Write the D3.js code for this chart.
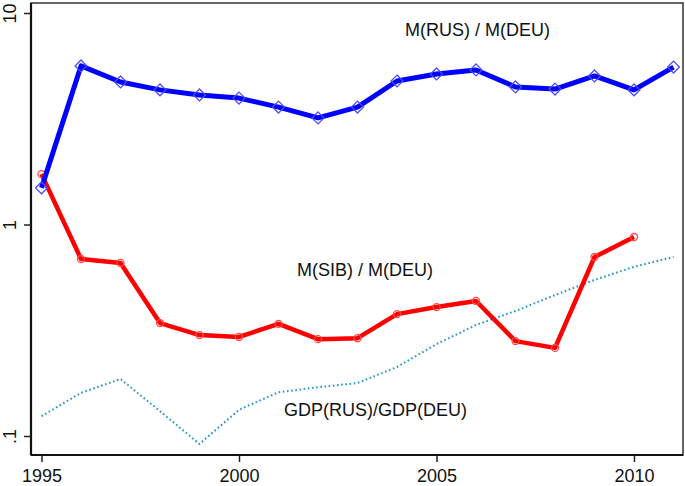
<!DOCTYPE html>
<html>
<head>
<meta charset="utf-8">
<script src="https://cdn.jsdelivr.net/npm/d3@7"></script>
<style>
html,body{margin:0;padding:0;background:#fff;}
svg{display:block;}
text{font-family:"Liberation Sans",Arial,sans-serif;}
</style>
</head>
<body>
<svg id="chart" width="685" height="486"></svg>
<script>
const years = [1995,1996,1997,1998,1999,2000,2001,2002,2003,2004,2005,2006,2007,2008,2009,2010,2011];
const rusDeu = [1.49,5.62,4.72,4.33,4.10,3.96,3.59,3.19,3.59,4.77,5.15,5.38,4.47,4.37,5.04,4.33,5.55];
const sibYears = [1995,1996,1997,1998,1999,2000,2001,2002,2003,2004,2005,2006,2007,2008,2009,2010];
const sibDeu = [1.73,0.687,0.658,0.342,0.300,0.294,0.339,0.287,0.290,0.377,0.407,0.435,0.281,0.261,0.702,0.873];
const gdpRatio = [0.124,0.160,0.186,0.131,0.0917,0.133,0.161,0.170,0.178,0.212,0.272,0.335,0.390,0.464,0.547,0.631,0.702];
const xTicks = [1995,2000,2005,2010];
const yTicks = [0.1,1,10];
const yTickLabels = [".1","1","10"];
const seriesLabels = ["M(RUS) / M(DEU)","M(SIB) / M(DEU)","GDP(RUS)/GDP(DEU)"];

const svg = d3.select("#chart");
const L = 31, R = 683, T = 3, B = 455;

const x = d3.scaleLinear().domain([1995, 2010]).range([41.5, 634]);
const y = d3.scaleLog().domain([0.1, 10]).range([436, 13]);

// frame
svg.append("rect").attr("x", L).attr("y", T).attr("width", R - L).attr("height", B - T)
  .attr("fill", "none").attr("stroke", "#333").attr("stroke-width", 1.5);

// x axis
const xAxis = d3.axisBottom(x).tickValues(xTicks).tickFormat(d3.format("d")).tickSize(7).tickPadding(7);
const gx = svg.append("g").attr("transform", `translate(0,${B})`).call(xAxis);
gx.select(".domain").attr("d", `M${L},0H${R}`).attr("stroke", "#111").attr("stroke-width", 2.2);
gx.selectAll(".tick line").attr("stroke", "#222").attr("stroke-width", 1.5);
gx.selectAll(".tick text").attr("font-size", 18).attr("fill", "#111")
  .attr("font-family", "Liberation Sans, Arial, sans-serif");

// y axis
const yAxis = d3.axisLeft(y).tickValues(yTicks).tickFormat((d, i) => yTickLabels[i]).tickSize(7);
const gy = svg.append("g").attr("transform", `translate(${L},0)`).call(yAxis);
gy.select(".domain").attr("d", `M0,${T}V${B}`).attr("stroke", "#111").attr("stroke-width", 2.2);
gy.selectAll(".tick line").attr("stroke", "#222").attr("stroke-width", 1.5);
gy.selectAll(".tick text")
  .attr("x", null).attr("dy", null)
  .attr("font-size", 18).attr("fill", "#111")
  .attr("font-family", "Liberation Sans, Arial, sans-serif")
  .attr("text-anchor", "middle")
  .attr("transform", "translate(-15.5,0) rotate(-90)");

// GDP dotted line
const gdpLine = d3.line().x((d, i) => x(years[i])).y(d => y(d));
svg.append("path").datum(gdpRatio).attr("d", gdpLine)
  .attr("fill", "none").attr("stroke", "#2394cf").attr("stroke-width", 2)
  .attr("stroke-dasharray", "1.6,2.6").attr("stroke-linecap", "butt");

// Red line
const sibLine = d3.line().x((d, i) => x(sibYears[i])).y(d => y(d));
svg.append("path").datum(sibDeu).attr("d", sibLine)
  .attr("fill", "none").attr("stroke", "#ff0000").attr("stroke-width", 4.5)
  .attr("stroke-linejoin", "round");
svg.append("g").selectAll("circle").data(sibDeu).join("circle")
  .attr("cx", (d, i) => x(sibYears[i])).attr("cy", d => y(d)).attr("r", 3.5)
  .attr("fill", "none").attr("stroke", "#ff4a4a").attr("stroke-width", 1.3);

// Blue line
const rusLine = d3.line().x((d, i) => x(years[i])).y(d => y(d));
svg.append("path").datum(rusDeu).attr("d", rusLine)
  .attr("fill", "none").attr("stroke", "#0000ff").attr("stroke-width", 5)
  .attr("stroke-linejoin", "round");
const diamond = d3.symbol().type(d3.symbolDiamond2).size(90);
svg.append("g").selectAll("path").data(rusDeu).join("path")
  .attr("d", diamond)
  .attr("transform", (d, i) => `translate(${x(years[i])},${y(d)})`)
  .attr("fill", "none").attr("stroke", "#4b4bff").attr("stroke-width", 1.3);

// series labels
const lab = [[405, 36], [297, 276], [284, 416]];
svg.append("g").selectAll("text").data(seriesLabels).join("text")
  .attr("x", (d, i) => lab[i][0]).attr("y", (d, i) => lab[i][1])
  .attr("font-size", 18).attr("fill", "#111").text(d => d);
</script>
</body>
</html>
